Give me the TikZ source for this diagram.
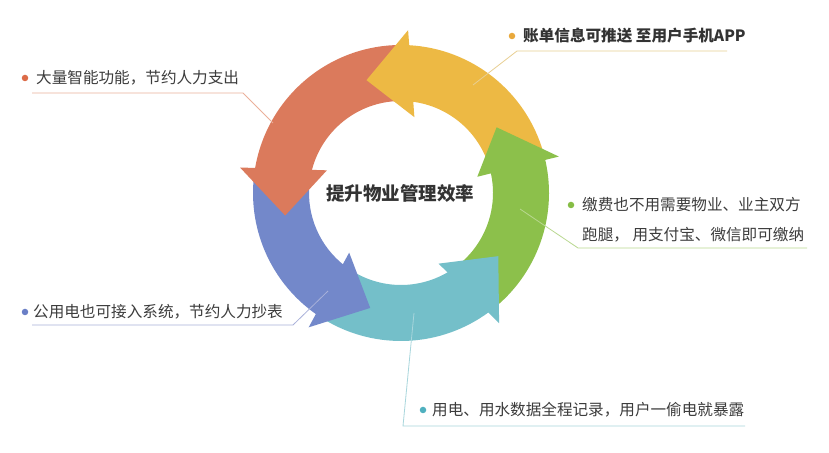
\documentclass[tikz,border=0pt]{standalone}
\usepackage{fontspec}
\setmainfont{Noto Sans CJK SC}
\usetikzlibrary{calc}
\definecolor{cred}{HTML}{DB7A5C}
\definecolor{cyellow}{HTML}{EDB944}
\definecolor{cgreen}{HTML}{8CC04B}
\definecolor{cteal}{HTML}{74BFC9}
\definecolor{cblue}{HTML}{7388CA}
\definecolor{dred}{HTML}{DC6B48}
\definecolor{dyellow}{HTML}{E9A93C}
\definecolor{dgreen}{HTML}{86BD45}
\definecolor{dteal}{HTML}{4FB0BF}
\definecolor{dblue}{HTML}{6A7FC6}
\definecolor{lred}{HTML}{EBB09A}
\definecolor{lyellow}{HTML}{E8CF92}
\definecolor{lgreen}{HTML}{B9D890}
\definecolor{lteal}{HTML}{A8D6DC}
\definecolor{lblue}{HTML}{A9B1DA}
\definecolor{labeltext}{HTML}{3C3C3C}
\definecolor{ctext}{HTML}{333333}
\begin{document}
\begin{tikzpicture}[x=1bp,y=1bp,
  lbl/.style={anchor=west,inner sep=0pt,font=\fontsize{15.6bp}{18bp}\selectfont,text=labeltext},
  lblb/.style={lbl,font=\fontsize{15.6bp}{18bp}\selectfont\bfseries,text=ctext},
  dot/.style={circle,inner sep=0pt,minimum size=6.5bp},
  lead/.style={line width=0.8bp}]
\useasboundingbox (0,0) rectangle (829,453);
\fill[white] (0,0) rectangle (829,453);
\coordinate (c) at (401,260);
\newcommand\ringbody[4]{\fill[#1] ($(c)+(#2:148)$) arc[start angle=#2,end angle=#3,radius=148] -- ($(c)+(#4:92)$) arc[start angle=#4,end angle=#2,radius=92] -- cycle;}
\newcommand\ringhead[7]{\fill[#1] ($(c)+(#2:#3)$) -- ($(c)+(#4:#5)$) -- ($(c)+(#6:#7)$) -- cycle;}
% bodies
\ringbody{cgreen}{-50}{14}{15}
\ringbody{cyellow}{16}{87}{83.5}
\ringbody{cred}{91}{170.5}{166.5}
\ringbody{cblue}{174.5}{235}{232.5}
\ringbody{cteal}{239}{306.5}{301.5}
% heads
\ringhead{cgreen}{12}{78}{13}{162}{34.5}{116}
\ringhead{cyellow}{80}{77}{87.5}{163}{107}{118}
\ringhead{cred}{163}{77.5}{171}{163}{191}{118}
\ringhead{cblue}{229}{79}{235.5}{163}{255}{119}
\ringhead{cteal}{298}{80}{307}{163}{327}{116}
% centre
\node[font=\fontsize{18.5bp}{22bp}\selectfont\bfseries,text=ctext,inner sep=0pt] (ct) at (400,260) {提升物业管理效率};
% label 1
\coordinate (u1a) at (32,360); \coordinate (u1b) at (243,360); \coordinate (u1c) at (273,330);
\draw[lead,lred] (u1a) -- (u1b) -- (u1c);
\node[dot,fill=dred] (b1) at (25,375) {};
\node[lbl] (t1) at (36,375) {大量智能功能，节约人力支出};
% label 2
\coordinate (u2a) at (727,402); \coordinate (u2b) at (517,402); \coordinate (u2c) at (473,368);
\draw[lead,lyellow] (u2a) -- (u2b) -- (u2c);
\node[dot,fill=dyellow] (b2) at (512,417) {};
\node[lblb] (t2) at (523,417) {账单信息可推送 至用户手机APP};
% label 3
\coordinate (u3a) at (807,205); \coordinate (u3b) at (578,205); \coordinate (u3c) at (520,244);
\draw[lead,lgreen] (u3a) -- (u3b) -- (u3c);
\node[dot,fill=dgreen] (b3) at (571,248) {};
\node[lbl] (t3a) at (582,248) {缴费也不用需要物业、业主双方};
\node[lbl] (t3b) at (582,218) {跑腿， 用支付宝、微信即可缴纳};
% label 4
\coordinate (u4a) at (32,128); \coordinate (u4b) at (293,128); \coordinate (u4c) at (328,162);
\draw[lead,lblue] (u4a) -- (u4b) -- (u4c);
\node[dot,fill=dblue] (b4) at (25,141) {};
\node[lbl] (t4) at (33,141) {公用电也可接入系统，节约人力抄表};
% label 5
\coordinate (u5a) at (745,27); \coordinate (u5b) at (403,27); \coordinate (u5c) at (414,140);
\draw[lead,lteal] (u5a) -- (u5b) -- (u5c);
\node[dot,fill=dteal] (b5) at (423,43) {};
\node[lbl] (t5) at (432,43) {用电、用水数据全程记录，用户一偷电就暴露};
\end{tikzpicture}
\end{document}
